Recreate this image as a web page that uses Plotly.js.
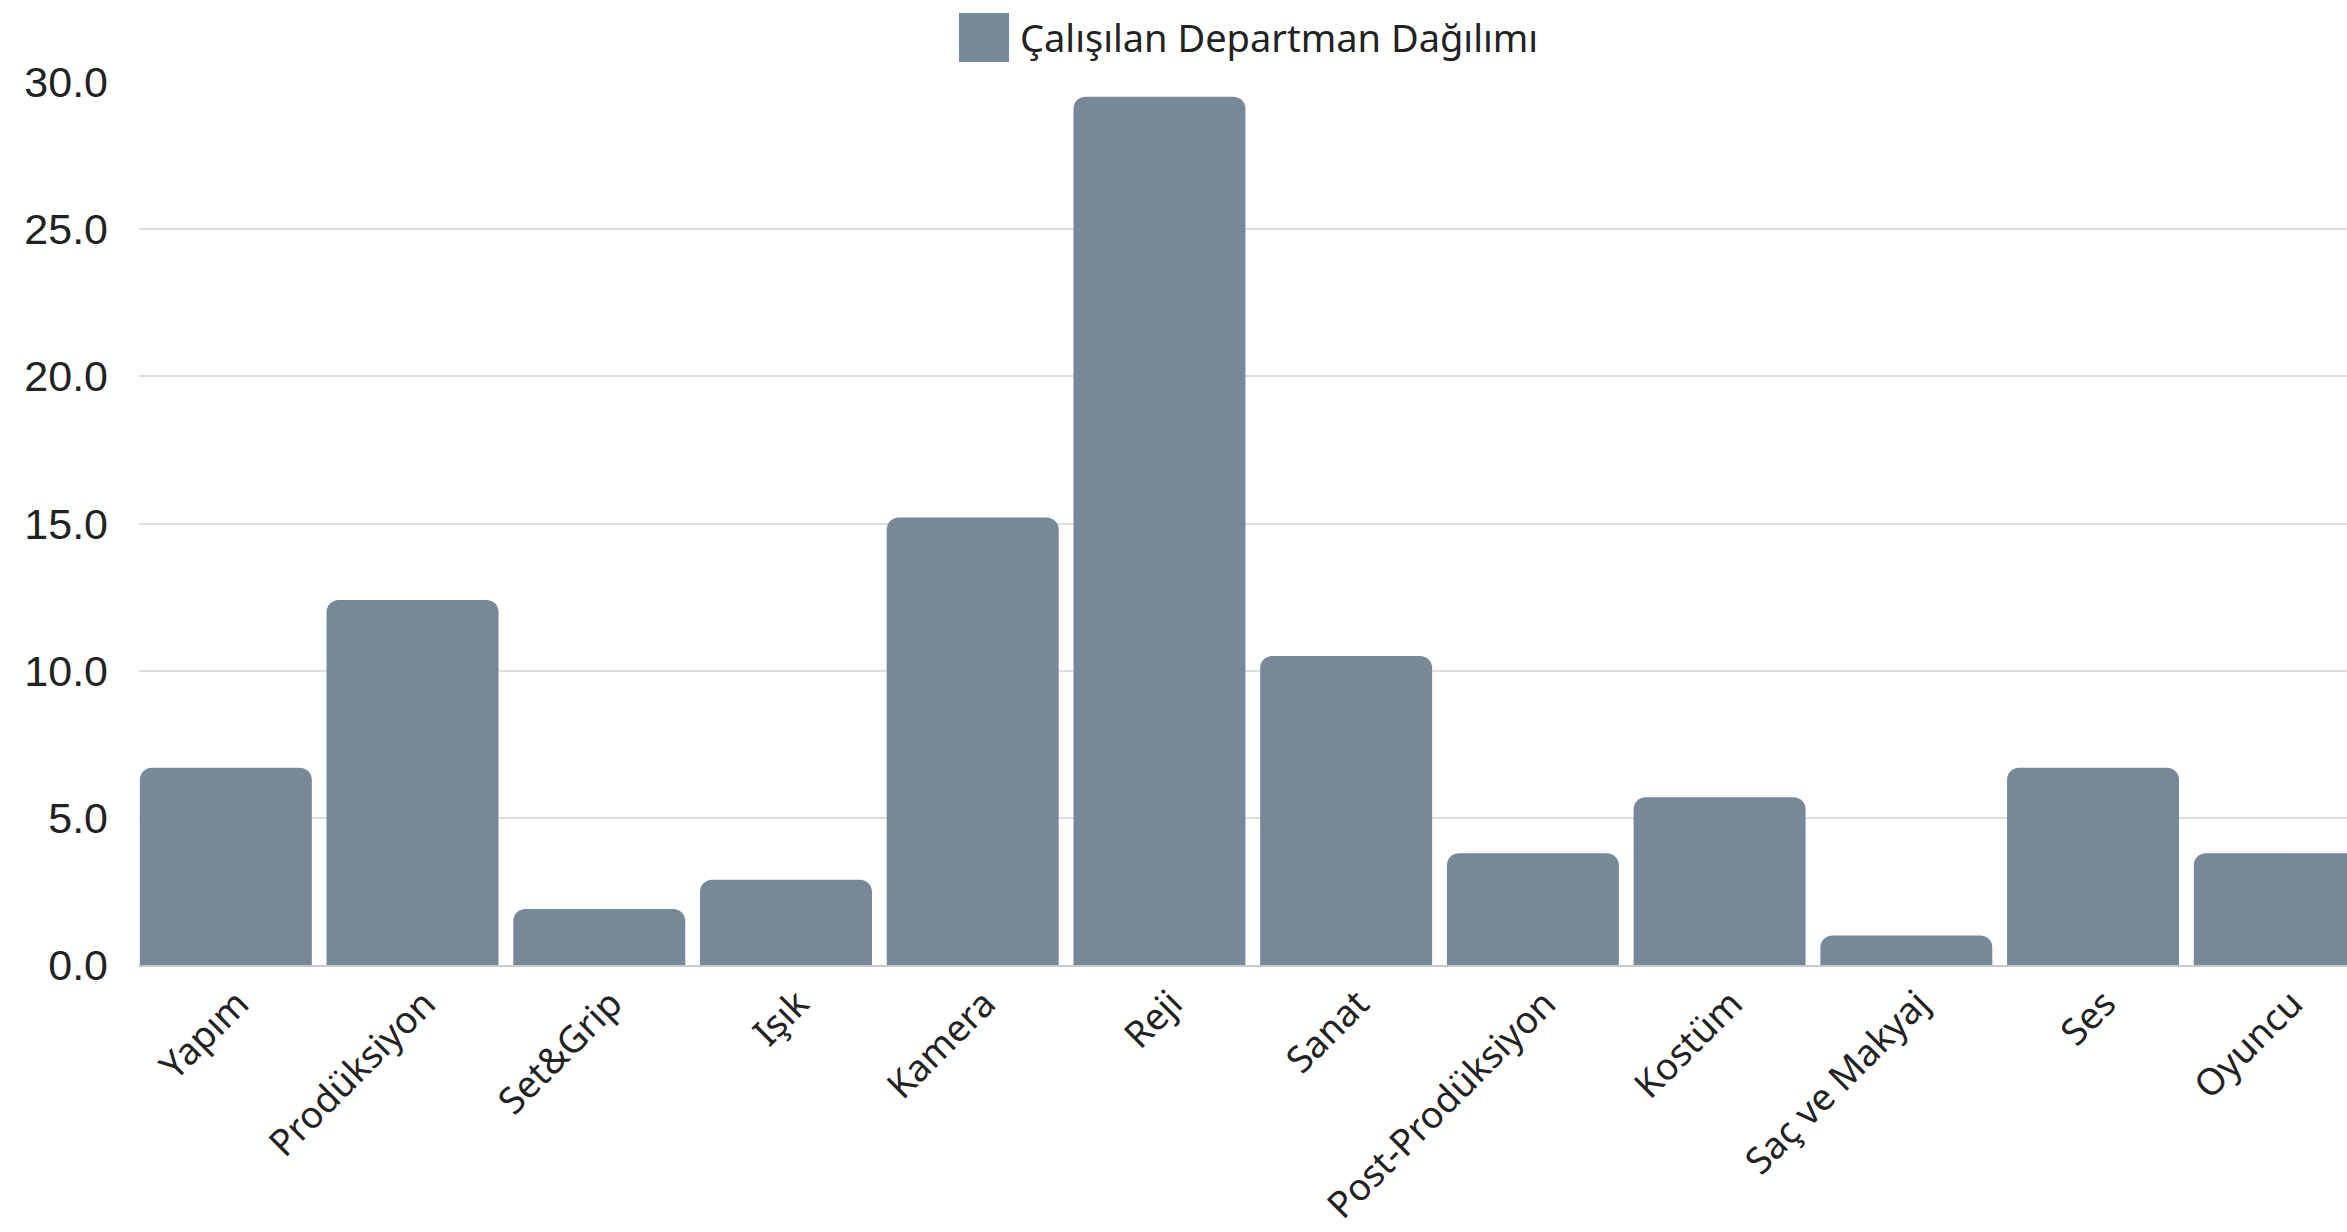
<!DOCTYPE html>
<html>
<head>
<meta charset="utf-8">
<script src="https://cdn.plot.ly/plotly-3.0.1.min.js"></script>
<style>
html,body{margin:0;padding:0;background:#fff;overflow:hidden;}
#chart{width:2347px;height:1232px;}
</style>
</head>
<body>
<div id="chart"></div>
<script>
const categories = ["Yapım","Prodüksiyon","Set&Grip","Işık","Kamera","Reji","Sanat","Post-Prodüksiyon","Kostüm","Saç ve Makyaj","Ses","Oyuncu"];
const values = [6.7, 12.4, 1.9, 2.9, 15.2, 29.5, 10.5, 3.8, 5.7, 1.0, 6.7, 3.8];
const seriesName = "Çalışılan Departman Dağılımı";
const yTicks = [0, 5, 10, 15, 20, 25, 30];
const barColor = "#778899";

const W = 2347, H = 1232;
const mL = 139, mR = 0, mT = 82, mB = 267;
const pw = W - mL - mR, ph = H - mT - mB;
const px2x = p => (p - mL) / pw;
const px2y = p => (H - mB - p) / ph;

const trace = {
  type: "bar",
  x: categories,
  y: values,
  name: seriesName,
  marker: {color: barColor, cornerradius: 12},
  hoverinfo: "x+y",
  showlegend: false
};

const layout = {
  width: W, height: H,
  margin: {l: mL, r: mR, t: mT, b: mB, pad: 0},
  paper_bgcolor: "#fff",
  plot_bgcolor: "#fff",
  bargap: 0.079,
  showlegend: false,
  xaxis: {
    type: "category",
    range: [-0.465, 11.36],
    tickangle: -45,
    tickfont: {family: "Noto Sans", size: 37, color: "#222"},
    showgrid: false,
    showline: true,
    linecolor: "#c8c8c8",
    linewidth: 2,
    ticks: "",
    ticklabelshift: 12,
    ticklabelstandoff: 0,
    automargin: false
  },
  yaxis: {
    range: [0, 30],
    tickvals: yTicks,
    tickformat: ".1f",
    tickfont: {family: "Liberation Sans, Arial, sans-serif", size: 43, color: "#222"},
    showgrid: true,
    gridcolor: "#dedede",
    gridwidth: 2,
    zeroline: false,
    showline: false,
    ticks: "",
    ticklabelstandoff: 30,
    automargin: false
  },
  shapes: [{
    type: "rect", xref: "paper", yref: "paper",
    x0: px2x(959), x1: px2x(1009), y0: px2y(62), y1: px2y(13),
    fillcolor: barColor, line: {width: 0}
  }],
  annotations: [{
    xref: "paper", yref: "paper",
    x: px2x(1018), y: px2y(37),
    xanchor: "left", yanchor: "middle",
    text: seriesName, showarrow: false,
    font: {family: "Noto Sans", size: 38, color: "#222"}
  }]
};

Plotly.newPlot("chart", [trace], layout, {displayModeBar: false, staticPlot: true});
</script>
</body>
</html>
